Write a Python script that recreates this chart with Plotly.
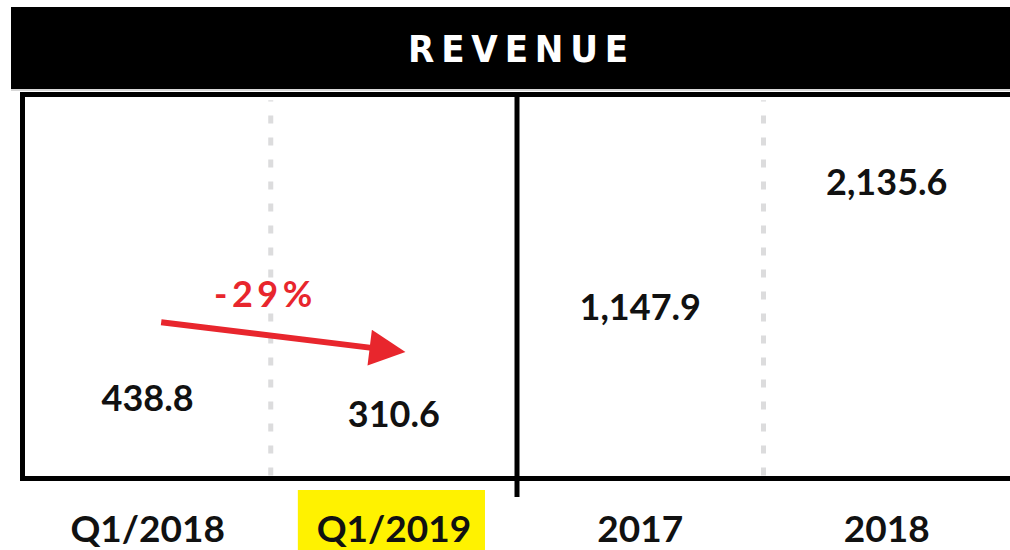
import plotly.graph_objects as go

# ---- data ----
quarter_labels = ["Q1/2018", "Q1/2019"]
quarter_values = [438.8, 310.6]
year_labels = ["2017", "2018"]
year_values = [1147.9, 2135.6]
value_text_q = ["438.8", "310.6"]
value_text_y = ["1,147.9", "2,135.6"]
change_label = "-29%"
title_text = "REVENUE"

W, H = 1010, 550
def px_x(p):
    return p / W
def px_y(p):
    return 1 - p / H

BOLD = "Lato"
val_font = dict(family=BOLD, size=36, color="#111111", weight=700)

fig = go.Figure()
fig.add_trace(go.Scatter(x=quarter_labels, y=quarter_values, mode="text",
                         text=value_text_q, textposition="middle center",
                         textfont=val_font, xaxis="x", yaxis="y",
                         hoverinfo="skip", showlegend=False))
fig.add_trace(go.Scatter(x=year_labels, y=year_values, mode="text",
                         text=value_text_y, textposition="middle center",
                         textfont=val_font, xaxis="x2", yaxis="y",
                         hoverinfo="skip", showlegend=False))

y_range = [-143, 2837]
tick_font = dict(family=BOLD, size=37, color="#111111", weight=700)
axis_common = dict(type="category", range=[-0.5, 1.5], showgrid=False,
                   zeroline=False, showline=True, linecolor="black",
                   linewidth=5, mirror=True, ticks="", tickfont=tick_font,
                   ticklabelstandoff=17, fixedrange=True)

fig.update_layout(
    width=W, height=H,
    margin=dict(l=0, r=0, t=0, b=0),
    paper_bgcolor="white", plot_bgcolor="white",
    xaxis=dict(domain=[px_x(24.5), px_x(517)], anchor="y", **axis_common),
    xaxis2=dict(domain=[px_x(517), 1.0], anchor="y", **axis_common),
    yaxis=dict(domain=[px_y(475.5), px_y(96.5)], range=y_range, showgrid=False,
               zeroline=False, showticklabels=False, ticks="",
               showline=True, linecolor="black", linewidth=5,
               anchor="x", fixedrange=True),
    showlegend=False,
)

shapes = []
# title bar
shapes.append(dict(type="rect", xref="paper", yref="paper",
                   x0=px_x(11), x1=1.0, y0=px_y(89), y1=px_y(7),
                   fillcolor="black", line=dict(width=0), layer="below"))
shapes.append(dict(type="line", xref="paper", yref="paper",
                   x0=px_x(11), x1=1.0, y0=px_y(90), y1=px_y(90),
                   line=dict(color="#b0b0b0", width=1), layer="below"))
# yellow highlight behind Q1/2019
shapes.append(dict(type="rect", xref="x", yref="paper",
                   x0=0.61, x1=1.37, y0=0, y1=px_y(490),
                   fillcolor="#FFF200", line=dict(width=0), layer="below"))
# dashed separators
for xr in ["x", "x2"]:
    shapes.append(dict(type="line", xref=xr, yref="y domain",
                       x0=0.5, x1=0.5, y0=0.0, y1=0.99,
                       line=dict(color="#dcdcdd", width=5, dash="8px,14px"),
                       layer="below"))
# solid divider between panels
shapes.append(dict(type="line", xref="x2 domain", yref="paper",
                   x0=0, x1=0, y0=px_y(497), y1=px_y(96),
                   line=dict(color="black", width=5)))
fig.update_layout(shapes=shapes)

annotations = [
    dict(text="\u2009".join(title_text), xref="paper", yref="paper",
         x=px_x(518), y=px_y(49), xanchor="center", yanchor="middle",
         showarrow=False,
         font=dict(family="Liberation Sans Narrow, DejaVu Sans Condensed, sans-serif",
                   size=38, color="white", weight=700)),
    dict(text="\u2009".join(change_label), xref="x", yref="y", x=0.47, y=1292,
         xanchor="center", yanchor="middle", showarrow=False,
         font=dict(family=BOLD, size=36, color="#E8262D", weight=700)),
    dict(text="", xref="x", yref="y", x=1.047, y=828,
         axref="x", ayref="y", ax=0.049, ay=1064,
         showarrow=True, arrowhead=2, arrowsize=1.2, arrowwidth=6,
         arrowcolor="#E8262D"),
]
fig.update_layout(annotations=annotations)

fig.write_html("out.html", config={"displayModeBar": False},
               post_script="document.body.style.margin='0px';document.body.style.overflow='hidden';")
